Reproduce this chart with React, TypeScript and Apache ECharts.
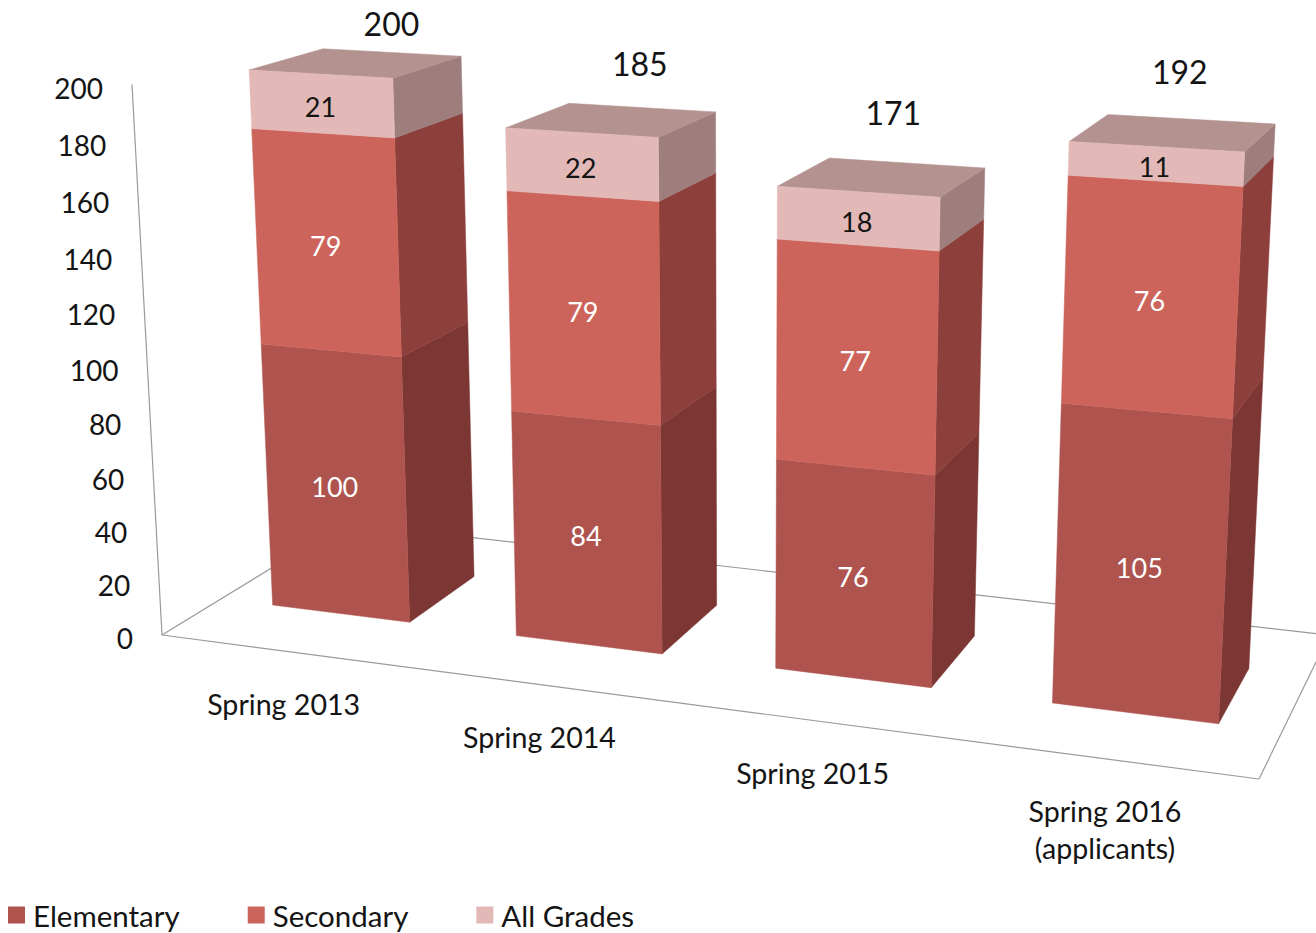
import React, { useEffect, useRef } from "react";
import * as echarts from "echarts";

const categories = ["Spring 2013", "Spring 2014", "Spring 2015", "Spring 2016\n(applicants)"];
const elementary = [100, 84, 76, 105];
const secondary = [79, 79, 77, 76];
const allGrades = [21, 22, 18, 11];
const totals = [200, 185, 171, 192];
const valueTicks = [0, 20, 40, 60, 80, 100, 120, 140, 160, 180, 200];

const WIDTH = 1316;
const HEIGHT = 933;
const FONT = "Lato, 'Open Sans', sans-serif";
const TEXT = "#141414";
const FLOOR_LINE = "#9a9a9a";

const COLORS = {
  elementary: { front: "#AE534D", side: "#7C3633" },
  secondary: { front: "#CD645B", side: "#8D3F3B" },
  allGrades: { front: "#E2B9B7", side: "#9E7D7D", top: "#B49290" },
};

// Perspective camera of the 3D plot: origin, the images of the unit points on
// each of the three axes, and how far the vanishing point lies along each axis.
const ORIGIN = [162, 635];
const UNIT_X = [1259, 779];
const UNIT_Y = [132, 84.5];
const UNIT_Z = [345, 523];
const K_X = -7;
const K_Y = -19.24;
const K_Z = 9.09;
const BAR_RATIO = 0.57;
const DEPTH_FRONT = 0.3;
const DEPTH_BACK = 0.69;
const VIEW_SHIFT = 1;
const TOTAL_OFFSETS = [[0, -29], [-2, -44], [-13, -50], [-11, -48]];

const axisTerm = (unit: number[], k: number) => {
  const a = 1 / (k - 1);
  return {
    a,
    v: [ORIGIN[0] + k * (unit[0] - ORIGIN[0]), ORIGIN[1] + k * (unit[1] - ORIGIN[1])],
  };
};
const TX = axisTerm(UNIT_X, K_X);
const TY = axisTerm(UNIT_Y, K_Y);
const TZ = axisTerm(UNIT_Z, K_Z);

const project = (x: number, y: number, z: number) => {
  const w = 1 + x * TX.a + y * TY.a + z * TZ.a;
  return [
    (ORIGIN[0] + x * TX.a * TX.v[0] + y * TY.a * TY.v[0] + z * TZ.a * TZ.v[0]) / w,
    (ORIGIN[1] + x * TX.a * TX.v[1] + y * TY.a * TY.v[1] + z * TZ.a * TZ.v[1]) / w,
  ];
};

// From the pixels of the flat grid (the library's scales) into the 3D view.
const view = (px: number, py: number, z: number) => project((px + VIEW_SHIFT) / WIDTH, 1 - py / HEIGHT, z);

const poly = (points: number[][], color: string) => ({
  type: "polygon",
  shape: { points },
  style: { fill: color, stroke: color, lineWidth: 0.5 },
});

const label = (text: string, x: number, y: number, size: number, fill: string, align = "center", vAlign = "middle", lineHeight?: number) => ({
  type: "text",
  x,
  y,
  style: {
    text,
    fill,
    fontSize: size,
    fontFamily: FONT,
    align,
    verticalAlign: vAlign,
    textAlign: align,
    textVerticalAlign: vAlign,
    lineHeight,
  },
});

const barSeries = (
  name: string,
  values: number[],
  bases: number[],
  colors: { front: string; side: string; top?: string },
  labelColor: string,
  isTop: boolean,
) => ({
  name,
  type: "custom",
  silent: true,
  z: 3,
  itemStyle: { color: colors.front },
  encode: { x: 0, y: [1, 2] },
  data: values.map((v, i) => [i, bases[i], bases[i] + v, v]),
  renderItem: (_p: any, api: any) => {
    const i = api.value(0);
    const lo = api.coord([i, api.value(1)]);
    const hi = api.coord([i, api.value(2)]);
    const half = (api.size([1, 0])[0] * BAR_RATIO) / 2;
    const x0 = lo[0] - half;
    const x1 = lo[0] + half;
    const fl = view(x0, lo[1], DEPTH_FRONT);
    const fr = view(x1, lo[1], DEPTH_FRONT);
    const tl = view(x0, hi[1], DEPTH_FRONT);
    const tr = view(x1, hi[1], DEPTH_FRONT);
    const br = view(x1, lo[1], DEPTH_BACK);
    const ur = view(x1, hi[1], DEPTH_BACK);
    const ul = view(x0, hi[1], DEPTH_BACK);
    const mid = view(lo[0], (lo[1] + hi[1]) / 2, DEPTH_FRONT);
    const children: any[] = [poly([fr, br, ur, tr], colors.side)];
    if (isTop) children.push(poly([tl, tr, ur, ul], colors.top as string));
    children.push(poly([fl, fr, tr, tl], colors.front));
    children.push(label(String(api.value(3)), mid[0] - 1, mid[1] + 3, 27, labelColor));
    return { type: "group", children };
  },
});

const App = () => {
  const ref = useRef<HTMLDivElement>(null);
  useEffect(() => {
    const chart = echarts.init(ref.current as HTMLDivElement, undefined, { renderer: "svg" });
    const base2 = elementary;
    const base3 = elementary.map((v, i) => v + secondary[i]);
    const option = {
      animation: false,
      backgroundColor: "#ffffff",
      grid: { left: 0, right: 0, top: 0, bottom: 0 },
      xAxis: { type: "category", data: categories, show: false },
      yAxis: { type: "value", min: 0, max: 200, interval: 20, show: false },
      legend: {
        data: ["Elementary", "Secondary", "All Grades"],
        left: 8,
        top: 900,
        padding: 0,
        icon: "rect",
        itemWidth: 17,
        itemHeight: 17,
        itemGap: 68,
        selectedMode: false,
        textStyle: { fontFamily: FONT, fontSize: 29.5, color: TEXT, padding: [0, 0, 0, 3] },
      },
      series: [
        {
          name: "floor",
          type: "custom",
          silent: true,
          z: 1,
          data: [[0, 0]],
          encode: { x: 0, y: 1 },
          renderItem: () => {
            const line = (a: number[], b: number[]) => ({
              type: "line",
              shape: { x1: a[0], y1: a[1], x2: b[0], y2: b[1] },
              style: { stroke: FLOOR_LINE, lineWidth: 1.2, fill: "none" },
            });
            const o = project(0, 0, 0);
            const ex = project(1, 0, 0);
            const ez = project(0, 0, 1);
            const exz = project(1, 0, 1);
            const ey = project(0, 1, 0);
            return {
              type: "group",
              children: [line(o, ex), line(o, ez), line(ex, exz), line(ez, exz), line(o, ey)],
            };
          },
        },
        {
          name: "value ticks",
          type: "custom",
          silent: true,
          z: 2,
          data: valueTicks.map((v) => [0, v]),
          encode: { x: 0, y: 1 },
          renderItem: (_p: any, api: any) => {
            const c = api.coord([0, api.value(1)]);
            const p = project(0, 1 - c[1] / HEIGHT, 0);
            return label(String(api.value(1)), p[0] - 29, p[1] + 3, 28, TEXT, "right");
          },
        },
        {
          name: "categories",
          type: "custom",
          silent: true,
          z: 2,
          data: categories.map((_c, i) => [i, 0]),
          encode: { x: 0, y: 1 },
          renderItem: (_p: any, api: any) => {
            const i = api.value(0);
            const c = api.coord([i, 0]);
            const p = view(c[0], c[1], 0);
            return label(categories[i], p[0] - 1, p[1] + 34, 28.6, TEXT, "center", "top", 37);
          },
        },
        barSeries("Elementary", elementary, elementary.map(() => 0), COLORS.elementary, "#ffffff", false),
        barSeries("Secondary", secondary, base2, COLORS.secondary, "#ffffff", false),
        barSeries("All Grades", allGrades, base3, COLORS.allGrades, TEXT, true),
        {
          name: "totals",
          type: "custom",
          silent: true,
          z: 4,
          data: totals.map((v, i) => [i, v]),
          encode: { x: 0, y: 1 },
          renderItem: (_p: any, api: any) => {
            const i = api.value(0);
            const c = api.coord([i, api.value(1)]);
            const p = view(c[0], c[1], DEPTH_BACK);
            const off = TOTAL_OFFSETS[i];
            return label(String(api.value(1)), p[0] + off[0], p[1] + off[1], 32, TEXT);
          },
        },
      ],
    };
    chart.setOption(option as any);
    return () => chart.dispose();
  }, []);
  return <div ref={ref} style={{ position: "absolute", left: 0, top: 0, width: WIDTH, height: HEIGHT, overflow: "hidden" }} />;
};

export default App;
